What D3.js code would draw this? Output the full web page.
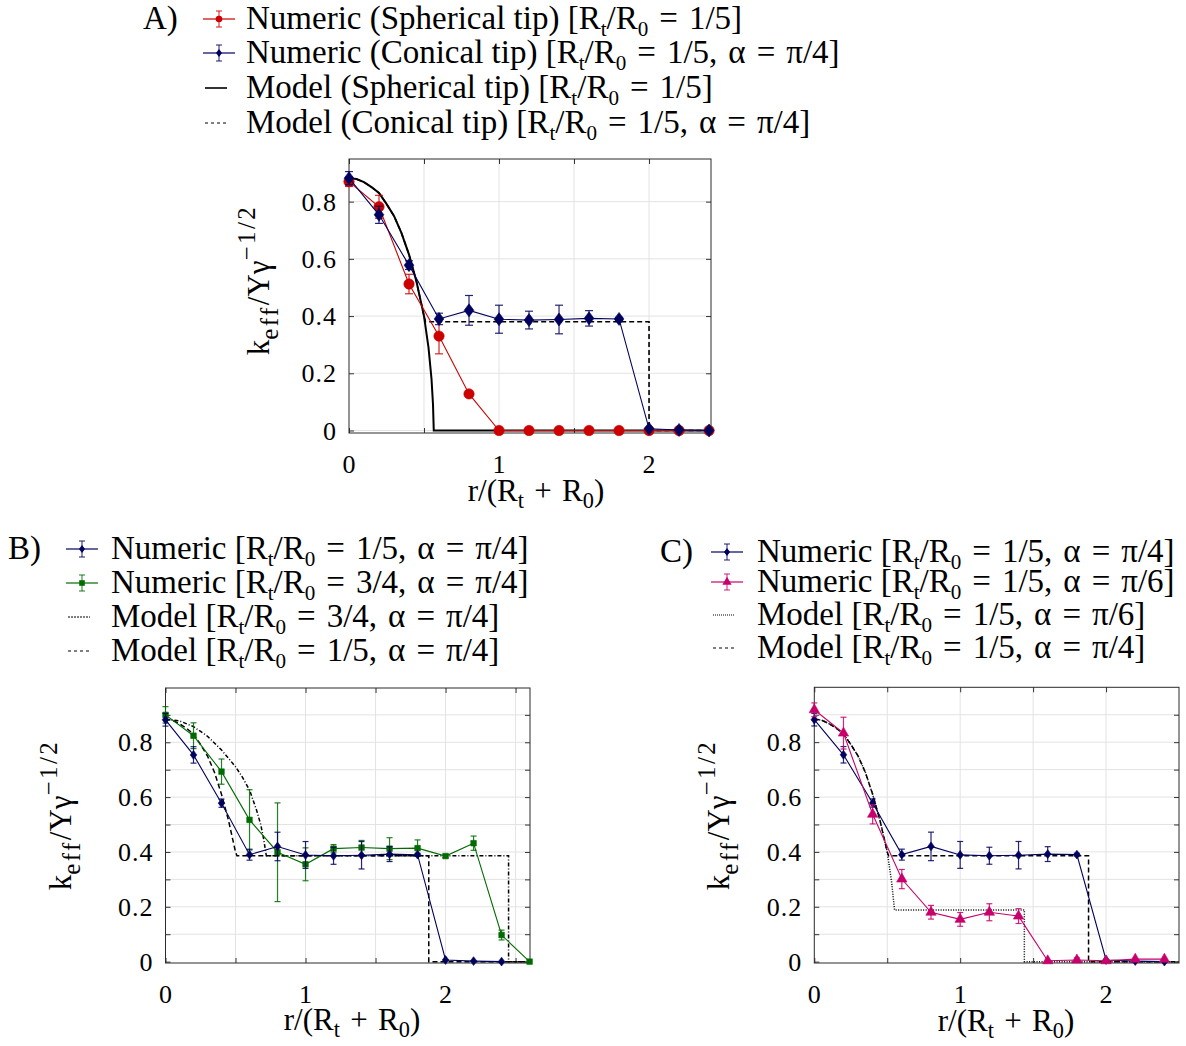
<!DOCTYPE html>
<html><head><meta charset="utf-8">
<script src="https://cdn.jsdelivr.net/npm/d3@7"></script>
<style>
body{margin:0;background:#fff}
text{font-family:"Liberation Serif","DejaVu Serif",serif;fill:#000}
</style>
</head><body>
<svg id="chart" width="1186" height="1046"></svg>
<script>
// ---------------- data ----------------
const xNum13 = [0, 0.2, 0.4, 0.6, 0.8, 1.0, 1.2, 1.4, 1.6, 1.8, 2.0, 2.2, 2.4];
const xNum14 = [0, 0.2, 0.4, 0.6, 0.8, 1.0, 1.2, 1.4, 1.6, 1.8, 2.0, 2.2, 2.4, 2.6];

const sphere15 = [0.870, 0.782, 0.512, 0.330, 0.128, 0, 0, 0, 0, 0, 0, 0, 0];
const sphere15Err = [0.017, 0.040, 0.034, 0.062, 0, 0, 0, 0, 0, 0, 0, 0, 0];

const conic15pi4 = [0.882, 0.754, 0.578, 0.390, 0.420, 0.389, 0.386, 0.388, 0.392, 0.390, 0.006, 0.002, 0.000];
const conic15pi4Err = [0.023, 0.030, 0.015, 0.020, 0.052, 0.049, 0.031, 0.050, 0.027, 0.005, 0, 0, 0];

const conic34pi4 = [0.900, 0.824, 0.693, 0.517, 0.399, 0.355, 0.412, 0.416, 0.412, 0.414, 0.385, 0.432, 0.097, 0.000];
const conic34pi4Err = [0.030, 0.047, 0.046, 0.110, 0.180, 0.060, 0.015, 0.026, 0.040, 0.030, 0.005, 0.026, 0.018, 0];

const conic15pi6 = [0.918, 0.833, 0.537, 0.301, 0.180, 0.154, 0.180, 0.166, 0.003, 0.006, 0.003, 0.009, 0.009];
const conic15pi6Err = [0.025, 0.058, 0.035, 0.035, 0.025, 0.025, 0.031, 0.027, 0, 0.008, 0, 0, 0];

// model curves
const modelSphereX = [0, 0.05, 0.1, 0.15, 0.2, 0.25, 0.3, 0.35, 0.4, 0.45, 0.5, 0.53, 0.55, 0.56, 0.565, 2.41];
const modelSphereY = [0.882, 0.879, 0.868, 0.851, 0.830, 0.792, 0.750, 0.690, 0.615, 0.520, 0.400, 0.290, 0.180, 0.090, 0, 0];

const modelConeAX = [0, 0.05, 0.1, 0.15, 0.2, 0.25, 0.3, 0.35, 0.4, 0.45, 0.5, 0.51, 2.0, 2.0, 2.41];
const modelConeAY = [0.882, 0.879, 0.868, 0.851, 0.830, 0.792, 0.750, 0.690, 0.615, 0.520, 0.400, 0.380, 0.380, 0, 0];

const modelCone34X = [0, 0.1, 0.2, 0.3, 0.4, 0.5, 0.55, 0.6, 0.65, 0.68, 0.7, 0.72, 2.45, 2.45, 2.6];
const modelCone34Y = [0.884, 0.878, 0.857, 0.822, 0.772, 0.711, 0.672, 0.626, 0.553, 0.500, 0.450, 0.386, 0.386, 0, 0];

const modelCone15BX = [0, 0.05, 0.1, 0.15, 0.2, 0.25, 0.3, 0.35, 0.4, 0.45, 0.5, 0.51, 1.88, 1.88, 2.6];
const modelCone15BY = [0.884, 0.880, 0.868, 0.851, 0.830, 0.792, 0.750, 0.690, 0.610, 0.515, 0.400, 0.386, 0.386, 0, 0];

const modelPi6X = [0, 0.05, 0.1, 0.15, 0.2, 0.25, 0.3, 0.35, 0.4, 0.45, 0.5, 0.53, 0.55, 1.44, 1.44, 2.5];
const modelPi6Y = [0.884, 0.880, 0.868, 0.851, 0.830, 0.792, 0.750, 0.690, 0.610, 0.515, 0.400, 0.290, 0.188, 0.188, 0, 0];

const modelCone15CX = [0, 0.05, 0.1, 0.15, 0.2, 0.25, 0.3, 0.35, 0.4, 0.45, 0.5, 0.51, 1.88, 1.88, 2.5];
const modelCone15CY = [0.884, 0.880, 0.868, 0.851, 0.830, 0.792, 0.750, 0.690, 0.610, 0.515, 0.400, 0.386, 0.386, 0, 0];

// tick labels
const xTickLabels = [0, 1, 2];
const yTickLabels = [0, 0.2, 0.4, 0.6, 0.8];

// legend texts
const legendA = [
  "Numeric (Spherical tip) [R_{t}/R_{0} = 1/5]",
  "Numeric (Conical tip) [R_{t}/R_{0} = 1/5, α = π/4]",
  "Model (Spherical tip) [R_{t}/R_{0} = 1/5]",
  "Model (Conical tip) [R_{t}/R_{0} = 1/5, α = π/4]"
];
const legendB = [
  "Numeric [R_{t}/R_{0} = 1/5, α = π/4]",
  "Numeric [R_{t}/R_{0} = 3/4, α = π/4]",
  "Model [R_{t}/R_{0} = 3/4, α = π/4]",
  "Model [R_{t}/R_{0} = 1/5, α = π/4]"
];
const legendC = [
  "Numeric [R_{t}/R_{0} = 1/5, α = π/4]",
  "Numeric [R_{t}/R_{0} = 1/5, α = π/6]",
  "Model [R_{t}/R_{0} = 1/5, α = π/6]",
  "Model [R_{t}/R_{0} = 1/5, α = π/4]"
];
const xLabel = "r/(R_{t} + R_{0})";
const yLabel = "k_{eff}/Yγ^{−1/2}";

// ---------------- styling ----------------
const RED = "#cc0000", NAVY = "#00005e", GREEN = "#006b00", MAGENTA = "#c8006b";
const svg = d3.select("#chart");

function rich(textSel, str, fs, opts) {
  opts = opts || {};
  const re = /([_^])\{([^}]*)\}/g;
  let last = 0, m, cur = 0;
  const subOff = (opts.sub || 0.28) * fs, supOff = -0.45 * fs;
  const add = (t, off, small) => {
    // math relation spacing (a little wider than a word space)
    const txt = small ? t : t.replace(/ = /g, "\u2004=\u2004").replace(/ \+ /g, "\u2004+\u2004").replace(/, α/g, ",\u2004α");
    const ts = textSel.append("tspan").text(txt).attr("dy", off - cur);
    if (small) {
      ts.attr("font-size", fs * (opts.smallScale || 0.7));
      if (opts.smallSpacing) ts.attr("letter-spacing", opts.smallSpacing);
    }
    cur = off;
  };
  while ((m = re.exec(str))) {
    if (m.index > last) add(str.slice(last, m.index), 0, false);
    add(m[2], m[1] === "_" ? subOff : supOff, true);
    last = re.lastIndex;
  }
  if (last < str.length) add(str.slice(last), 0, false);
}

function diamondPath(w, h) { return `M0,${-h}L${w},0L0,${h}L${-w},0Z`; }
function markerPath(kind, s) {
  if (kind === "circle") return d3.symbol().type(d3.symbolCircle).size(Math.PI * s * s)();
  if (kind === "diamond") return diamondPath(s * 0.75, s);
  if (kind === "square") return d3.symbol().type(d3.symbolSquare).size(s * s * 4)();
  if (kind === "triangle") return d3.symbol().type(d3.symbolTriangle).size(s * s * 3.2)();
}

function panel(cfg) {
  const g = svg.append("g");
  const x = d3.scaleLinear().domain(cfg.xDomain).range([cfg.left, cfg.right]);
  const y = d3.scaleLinear().domain(cfg.yDomain).range([cfg.bottom, cfg.top]);

  // grid
  const gridG = g.append("g").attr("stroke", "#e3e3e3").attr("stroke-width", 1);
  cfg.xGrid.forEach(v => { if (v > cfg.xDomain[0] + 1e-6 && v < cfg.xDomain[1] - 1e-6)
    gridG.append("line").attr("x1", x(v)).attr("x2", x(v)).attr("y1", cfg.top).attr("y2", cfg.bottom); });
  cfg.yGrid.forEach(v => { if (v > cfg.yDomain[0] + 0.005 && v < cfg.yDomain[1] - 1e-6)
    gridG.append("line").attr("y1", y(v)).attr("y2", y(v)).attr("x1", cfg.left).attr("x2", cfg.right); });

  // axes via d3 axis (inward ticks)
  const tk = 5;
  const xv = cfg.xGrid.filter(v => v <= cfg.xDomain[1]);
  const axB = d3.axisBottom(x).tickValues(xv).tickSize(-tk).tickFormat("");
  const axT = d3.axisTop(x).tickValues(xv).tickSize(-tk).tickFormat("");
  const axL = d3.axisLeft(y).tickValues(cfg.yGrid).tickSize(-tk).tickFormat("");
  const axR = d3.axisRight(y).tickValues(cfg.yGrid).tickSize(-tk).tickFormat("");
  [[axB, `translate(0,${cfg.bottom})`], [axT, `translate(0,${cfg.top})`],
   [axL, `translate(${cfg.left},0)`], [axR, `translate(${cfg.right},0)`]].forEach(([ax, tr]) => {
    const a = g.append("g").attr("transform", tr).call(ax);
    a.selectAll("path.domain").remove();
    a.selectAll("line").attr("stroke", "#333");
  });
  g.append("rect").attr("x", cfg.left).attr("y", cfg.top)
    .attr("width", cfg.right - cfg.left).attr("height", cfg.bottom - cfg.top)
    .attr("fill", "none").attr("stroke", "#2b2b2b").attr("stroke-width", 1);

  // tick labels
  xTickLabels.forEach(v => g.append("text").attr("x", x(v)).attr("y", cfg.bottom + cfg.xTickDy)
    .attr("text-anchor", "middle").attr("font-size", cfg.tickFs).text(v));
  yTickLabels.forEach(v => g.append("text").attr("x", cfg.left - cfg.yTickDx).attr("y", y(v))
    .attr("dy", "0.35em").attr("text-anchor", "end").attr("font-size", cfg.tickFs)
    .attr("letter-spacing", 1).text(v === 0 ? "0" : v.toFixed(1)));

  // axis labels
  const xl = g.append("text").attr("x", cfg.xLabelPos[0]).attr("y", cfg.xLabelPos[1])
    .attr("text-anchor", "middle").attr("font-size", cfg.labelFs);
  rich(xl, xLabel, cfg.labelFs, { smallScale: 0.72, sub: 0.22 });
  const yl = g.append("text").attr("transform", `translate(${cfg.yLabelPos[0]},${cfg.yLabelPos[1]}) rotate(-90)`)
    .attr("text-anchor", "middle").attr("font-size", cfg.labelFs);
  rich(yl, yLabel, cfg.labelFs, { smallScale: 0.8, smallSpacing: 2.5 });

  // models
  cfg.models.forEach(mdl => {
    const pts = mdl.x.map((v, i) => [v, mdl.y[i]]);
    g.append("path").attr("d", d3.line().x(d => x(d[0])).y(d => y(d[1]))(pts))
      .attr("fill", "none").attr("stroke", "#000").attr("stroke-width", mdl.w)
      .attr("stroke-dasharray", mdl.dash || null);
  });

  // numeric series
  cfg.series.forEach(s => {
    const pts = s.x.map((v, i) => ({ x: v, y: s.y[i], e: s.e[i] }));
    const sg = g.append("g");
    pts.filter(p => p.e > 0).forEach(p => {
      const cx = x(p.x), y1 = y(p.y - p.e), y2 = y(p.y + p.e);
      sg.append("line").attr("x1", cx).attr("x2", cx).attr("y1", y1).attr("y2", y2)
        .attr("stroke", s.color).attr("stroke-width", 1.2).attr("opacity", 0.85);
      [y1, y2].forEach(yy => sg.append("line").attr("x1", cx - s.cap).attr("x2", cx + s.cap)
        .attr("y1", yy).attr("y2", yy).attr("stroke", s.color).attr("stroke-width", 1.2).attr("opacity", 0.85));
    });
    sg.append("path").attr("d", d3.line().x(d => x(d.x)).y(d => y(d.y))(pts))
      .attr("fill", "none").attr("stroke", s.color).attr("stroke-width", 1.1);
    sg.selectAll("path.mk").data(pts).join("path").attr("class", "mk")
      .attr("transform", d => `translate(${x(d.x)},${y(d.y)})`)
      .attr("d", markerPath(s.marker, s.size)).attr("fill", s.color).attr("stroke", s.color).attr("stroke-width", 0.6);
  });

  // legend
  const L = cfg.legend;
  g.append("text").attr("x", L.tagX).attr("y", L.rows[0] + L.fs * 0.3).attr("font-size", L.fs).text(L.tag);
  L.items.forEach((it, i) => {
    const yy = L.rows[i];
    if (it.type === "num") {
      g.append("line").attr("x1", L.symX).attr("x2", L.symX + L.symW).attr("y1", yy).attr("y2", yy)
        .attr("stroke", it.color).attr("stroke-width", 1.2);
      const cx = L.symX + L.symW / 2;
      g.append("line").attr("x1", cx).attr("x2", cx).attr("y1", yy - 8).attr("y2", yy + 8)
        .attr("stroke", it.color).attr("stroke-width", 1.1).attr("opacity", 0.8);
      [yy - 8, yy + 8].forEach(v => g.append("line").attr("x1", cx - 3).attr("x2", cx + 3).attr("y1", v).attr("y2", v)
        .attr("stroke", it.color).attr("stroke-width", 1.1).attr("opacity", 0.8));
      g.append("path").attr("transform", `translate(${cx},${yy})`).attr("d", markerPath(it.marker, it.size))
        .attr("fill", it.color);
    } else {
      g.append("line").attr("x1", L.symX + 2).attr("x2", L.symX + L.symW - 8).attr("y1", yy).attr("y2", yy)
        .attr("stroke", "#000").attr("stroke-width", it.w).attr("stroke-dasharray", it.dash || null);
    }
    const t = g.append("text").attr("x", L.textX).attr("y", yy + L.fs * 0.3).attr("font-size", L.fs);
    rich(t, it.label, L.fs, { smallScale: 0.64, sub: 0.22 });
  });
}

// ---------------- Panel A ----------------
panel({
  left: 349, right: 711, top: 159, bottom: 433,
  xDomain: [0, 2.413], yDomain: [-0.0087, 0.949],
  xGrid: [0, 0.5, 1, 1.5, 2], yGrid: [0, 0.2, 0.4, 0.6, 0.8],
  tickFs: 26, xTickDy: 40, yTickDx: 12, labelFs: 31,
  xLabelPos: [536, 501], yLabelPos: [269, 280],
  models: [
    { x: modelConeAX, y: modelConeAY, w: 1.6, dash: "5,3" },
    { x: modelSphereX, y: modelSphereY, w: 2 }
  ],
  series: [
    { x: xNum13, y: sphere15, e: sphere15Err, color: RED, marker: "circle", size: 5.2, cap: 4 },
    { x: xNum13, y: conic15pi4, e: conic15pi4Err, color: NAVY, marker: "diamond", size: 6.5, cap: 4 }
  ],
  legend: {
    tag: "A)", tagX: 143, fs: 33, symX: 203, symW: 32, textX: 246, rows: [19, 53, 88, 123],
    items: [
      { type: "num", color: RED, marker: "circle", size: 3.3, label: legendA[0] },
      { type: "num", color: NAVY, marker: "diamond", size: 4, label: legendA[1] },
      { type: "model", w: 1.6, label: legendA[2] },
      { type: "model", w: 1.2, dash: "3,3", label: legendA[3] }
    ]
  }
});

// ---------------- Panel B ----------------
panel({
  left: 165.5, right: 530, top: 688, bottom: 963,
  xDomain: [0, 2.603], yDomain: [-0.005, 0.998],
  xGrid: [0, 0.5, 1, 1.5, 2, 2.5], yGrid: [0, 0.1, 0.2, 0.3, 0.4, 0.5, 0.6, 0.7, 0.8, 0.9],
  tickFs: 26, xTickDy: 40, yTickDx: 12, labelFs: 31,
  xLabelPos: [352, 1030], yLabelPos: [71, 815],
  models: [
    { x: modelCone34X, y: modelCone34Y, w: 1.5, dash: "4,2,1,2" },
    { x: modelCone15BX, y: modelCone15BY, w: 1.5, dash: "5,3" }
  ],
  series: [
    { x: xNum14, y: conic34pi4, e: conic34pi4Err, color: GREEN, marker: "square", size: 2.8, cap: 3 },
    { x: xNum13, y: conic15pi4, e: conic15pi4Err, color: NAVY, marker: "diamond", size: 4.4, cap: 3 }
  ],
  legend: {
    tag: "B)", tagX: 8, fs: 33, symX: 66, symW: 32, textX: 111, rows: [549, 583, 617, 651],
    items: [
      { type: "num", color: NAVY, marker: "diamond", size: 4, label: legendB[0] },
      { type: "num", color: GREEN, marker: "square", size: 2.8, label: legendB[1] },
      { type: "model", w: 1.2, dash: "2,1", label: legendB[2] },
      { type: "model", w: 1.2, dash: "3,3", label: legendB[3] }
    ]
  }
});

// ---------------- Panel C ----------------
panel({
  left: 814.3, right: 1179, top: 687.3, bottom: 963,
  xDomain: [0, 2.5], yDomain: [-0.005, 1.0],
  xGrid: [0, 0.5, 1, 1.5, 2], yGrid: [0, 0.1, 0.2, 0.3, 0.4, 0.5, 0.6, 0.7, 0.8, 0.9],
  tickFs: 26, xTickDy: 40, yTickDx: 12, labelFs: 31,
  xLabelPos: [1006, 1031], yLabelPos: [729, 815],
  models: [
    { x: modelPi6X, y: modelPi6Y, w: 1.5, dash: "1,1.5" },
    { x: modelCone15CX, y: modelCone15CY, w: 1.5, dash: "5,3" }
  ],
  series: [
    { x: xNum13, y: conic15pi4, e: conic15pi4Err, color: NAVY, marker: "diamond", size: 4.4, cap: 3 },
    { x: xNum13, y: conic15pi6, e: conic15pi6Err, color: MAGENTA, marker: "triangle", size: 3.8, cap: 3 }
  ],
  legend: {
    tag: "C)", tagX: 660, fs: 33, symX: 711, symW: 32, textX: 757, rows: [552, 582, 615, 648],
    items: [
      { type: "num", color: NAVY, marker: "diamond", size: 4, label: legendC[0] },
      { type: "num", color: MAGENTA, marker: "triangle", size: 3.4, label: legendC[1] },
      { type: "model", w: 1, dash: "1,1", label: legendC[2] },
      { type: "model", w: 1.2, dash: "3,3", label: legendC[3] }
    ]
  }
});
</script>
</body></html>
